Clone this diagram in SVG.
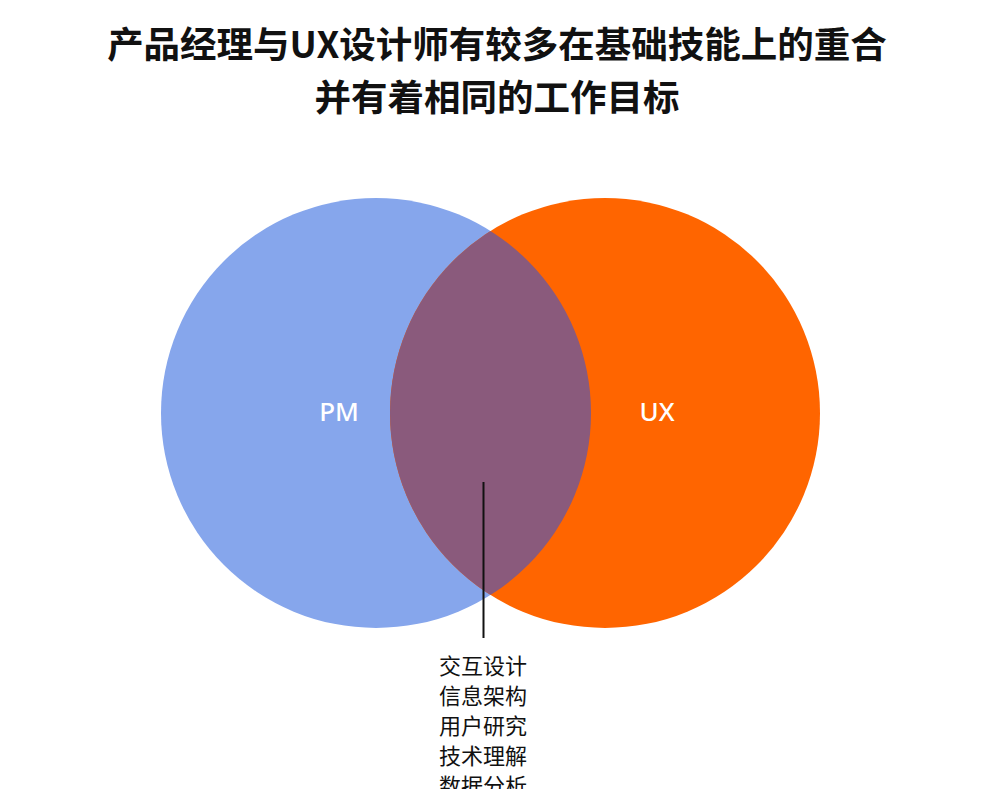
<svg xmlns="http://www.w3.org/2000/svg" width="994" height="789" viewBox="0 0 994 789">
<style>
.t{font-family:"Noto Sans CJK SC","Liberation Sans",sans-serif;fill:#111;text-anchor:middle}
.title{font-size:36.5px;font-weight:bold}
.lab{font-family:"Noto Sans","Liberation Sans",sans-serif;font-size:26px;font-weight:500;fill:#fff;text-anchor:middle}
.list{font-size:22px}
</style>
<defs><clipPath id="cl"><circle cx="376" cy="413" r="215"/></clipPath></defs>
<rect width="994" height="789" fill="#fff"/>
<g id="title">
<text class="t title" x="497" y="58">产品经理与UX设计师有较多在基础技能上的重合</text>
<text class="t title" x="497" y="111">并有着相同的工作目标</text>
</g>
<g id="pm"><circle cx="376" cy="413" r="215" fill="#86A6EC"/></g>
<g id="ux"><circle cx="605" cy="413" r="215" fill="#FF6500"/></g>
<g id="overlap"><circle cx="605" cy="413" r="215" fill="#8A5A7C" clip-path="url(#cl)"/></g>
<g id="labels">
<text class="lab" x="339" y="421">PM</text>
<text class="lab" x="657" y="421">UX</text>
</g>
<g id="connectors"><line x1="483.500" y1="482" x2="483.500" y2="638" stroke="#111" stroke-width="2"/></g>
<g id="list">
<text class="t list" x="483" y="674">交互设计</text>
<text class="t list" x="483" y="704">信息架构</text>
<text class="t list" x="483" y="734">用户研究</text>
<text class="t list" x="483" y="764">技术理解</text>
<text class="t list" x="483" y="794">数据分析</text>
</g>
</svg>
